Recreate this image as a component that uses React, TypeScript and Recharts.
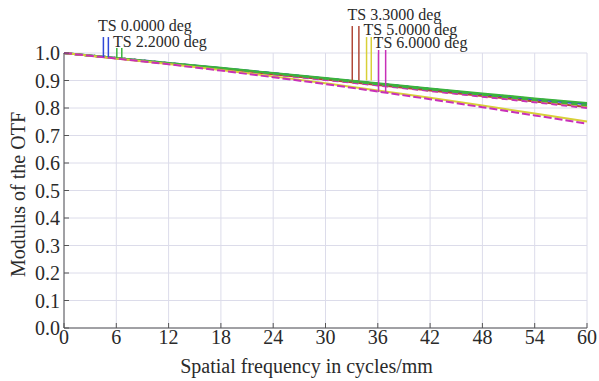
import {
  LineChart,
  Line,
  XAxis,
  YAxis,
  CartesianGrid,
  ReferenceLine,
  ReferenceDot,
} from "recharts";

const freq = [0, 6, 12, 18, 24, 30, 36, 42, 48, 54, 60];

const t00 = [1, 0.982, 0.963, 0.945, 0.926, 0.907, 0.888, 0.869, 0.85, 0.831, 0.814];
const s00 = [1, 0.982, 0.964, 0.945, 0.927, 0.908, 0.889, 0.87, 0.851, 0.833, 0.815];
const t22 = [1, 0.982, 0.964, 0.946, 0.927, 0.909, 0.89, 0.871, 0.853, 0.835, 0.818];
const s22 = [1, 0.982, 0.963, 0.944, 0.925, 0.906, 0.886, 0.867, 0.848, 0.829, 0.81];
const t33 = [1, 0.981, 0.962, 0.943, 0.923, 0.904, 0.884, 0.864, 0.844, 0.824, 0.804];
const s33 = [1, 0.982, 0.963, 0.944, 0.925, 0.905, 0.886, 0.866, 0.847, 0.827, 0.808];
const t50 = [1, 0.98, 0.96, 0.938, 0.915, 0.89, 0.864, 0.837, 0.809, 0.78, 0.751];
const s50 = [1, 0.981, 0.962, 0.943, 0.923, 0.903, 0.883, 0.863, 0.843, 0.823, 0.803];
const t60 = [1, 0.98, 0.959, 0.936, 0.912, 0.887, 0.86, 0.832, 0.803, 0.773, 0.743];
const s60 = [1, 0.981, 0.962, 0.942, 0.922, 0.902, 0.882, 0.862, 0.841, 0.821, 0.8];

const xTicks = [0, 6, 12, 18, 24, 30, 36, 42, 48, 54, 60];
const yTicks = [0, 0.1, 0.2, 0.3, 0.4, 0.5, 0.6, 0.7, 0.8, 0.9, 1.0];

// field legend (Zemax style: label + two marker strokes T / S)
const fieldLabels = ["TS 0.0000 deg", "TS 2.2000 deg", "TS 3.3000 deg", "TS 5.0000 deg", "TS 6.0000 deg"];
const fieldColors = ["#3048d8", "#3cb43c", "#b04838", "#d8d038", "#c830b8"];
const markerT = [4.52, 6.06, 33.07, 34.71, 36.09];
const markerS = [5.09, 6.63, 33.83, 35.25, 36.9];
const markerTop = [1.058, 1.018, 1.098, 1.058, 1.011];
const markerBottom = [0.985, 0.981, 0.9, 0.9, 0.858];
const labelX = [3.91, 5.63, 32.53, 34.37, 35.52];
const labelY = [1.08, 1.022, 1.12, 1.065, 1.018];

const series = [
  { key: "s00", vals: s00, color: fieldColors[0], dash: "6 4" },
  { key: "t00", vals: t00, color: fieldColors[0], dash: undefined },
  { key: "s33", vals: s33, color: fieldColors[2], dash: "6 4" },
  { key: "t33", vals: t33, color: fieldColors[2], dash: undefined },
  { key: "s50", vals: s50, color: fieldColors[3], dash: "6 4" },
  { key: "s60", vals: s60, color: fieldColors[4], dash: "6 4" },
  { key: "t22", vals: t22, color: fieldColors[1], dash: undefined },
  { key: "s22", vals: s22, color: fieldColors[1], dash: "6 4" },
  { key: "t50", vals: t50, color: fieldColors[3], dash: undefined },
  { key: "t60", vals: t60, color: fieldColors[4], dash: "8 3" },
];

const data = freq.map((f, i) => {
  const row: Record<string, number> = { f };
  series.forEach((s) => (row[s.key] = s.vals[i]));
  return row;
});

const FONT = "'Liberation Serif', 'Times New Roman', serif";
const AXIS = "#555";
const TEXT = "#2a2a2a";

export default function App() {
  return (
    <div style={{ position: "absolute", left: 0, top: 0, background: "#fff" }}>
      <LineChart
        width={599}
        height={381}
        data={data}
        margin={{ top: 53, right: 12, bottom: 0, left: 0 }}
        style={{ fontFamily: FONT }}
      >
        <CartesianGrid stroke="#dcdcea" strokeWidth={1} />
        <XAxis
          dataKey="f"
          type="number"
          domain={[0, 60]}
          ticks={xTicks}
          interval={0}
          height={53}
          stroke={AXIS}
          tickSize={-5}
          tickMargin={7}
          tick={{ fill: TEXT, fontSize: 20, fontFamily: FONT }}
          label={{
            content: (p: any) => (
              <text
                x={p.viewBox.x + p.viewBox.width / 2 - 19}
                y={p.viewBox.y + 45}
                fill={TEXT}
                fontSize={20}
                fontFamily={FONT}
                textAnchor="middle"
              >
                Spatial frequency in cycles/mm
              </text>
            ),
          }}
        />
        <XAxis
          xAxisId="top"
          orientation="top"
          dataKey="f"
          type="number"
          domain={[0, 60]}
          ticks={xTicks}
          interval={0}
          height={0}
          stroke={AXIS}
          tickSize={-5}
          tick={false}
        />
        <YAxis
          type="number"
          domain={[0, 1]}
          ticks={yTicks}
          interval={0}
          width={64}
          stroke={AXIS}
          tickSize={-5}
          tickMargin={9}
          tickFormatter={(v: number) => v.toFixed(1)}
          tick={{ fill: TEXT, fontSize: 20, fontFamily: FONT }}
          label={{
            content: (p: any) => {
              const cx = 25;
              const cy = p.viewBox.y + p.viewBox.height / 2 + 4;
              return (
                <text
                  x={cx}
                  y={cy}
                  transform={`rotate(-90 ${cx} ${cy})`}
                  fill={TEXT}
                  fontSize={20}
                  fontFamily={FONT}
                  textAnchor="middle"
                >
                  Modulus of the OTF
                </text>
              );
            },
          }}
        />
        <YAxis
          yAxisId="right"
          orientation="right"
          type="number"
          domain={[0, 1]}
          ticks={yTicks}
          interval={0}
          width={0}
          stroke={AXIS}
          tickSize={-5}
          tick={false}
        />
        {series.map((s) => (
          <Line
            key={s.key}
            dataKey={s.key}
            stroke={s.color}
            strokeWidth={2}
            strokeDasharray={s.dash}
            dot={false}
            isAnimationActive={false}
          />
        ))}
        {fieldLabels.map((lab, i) => (
          <ReferenceLine
            key={"mt" + i}
            ifOverflow="visible"
            segment={[
              { x: markerT[i], y: markerBottom[i] },
              { x: markerT[i], y: markerTop[i] },
            ]}
            stroke={fieldColors[i]}
            strokeWidth={1.5}
          />
        ))}
        {fieldLabels.map((lab, i) => (
          <ReferenceLine
            key={"ms" + i}
            ifOverflow="visible"
            segment={[
              { x: markerS[i], y: markerBottom[i] },
              { x: markerS[i], y: markerTop[i] },
            ]}
            stroke={fieldColors[i]}
            strokeWidth={1.5}
          />
        ))}
        {fieldLabels.map((lab, i) => (
          <ReferenceDot
            key={"lb" + i}
            x={labelX[i]}
            y={labelY[i]}
            r={0}
            ifOverflow="visible"
            fill="none"
            stroke="none"
            label={{
              content: (p: any) => (
                <text
                  x={p.viewBox.x}
                  y={p.viewBox.y}
                  fill={TEXT}
                  fontSize={16}
                  fontFamily={FONT}
                  textAnchor="start"
                >
                  {lab}
                </text>
              ),
            }}
          />
        ))}
      </LineChart>
    </div>
  );
}
